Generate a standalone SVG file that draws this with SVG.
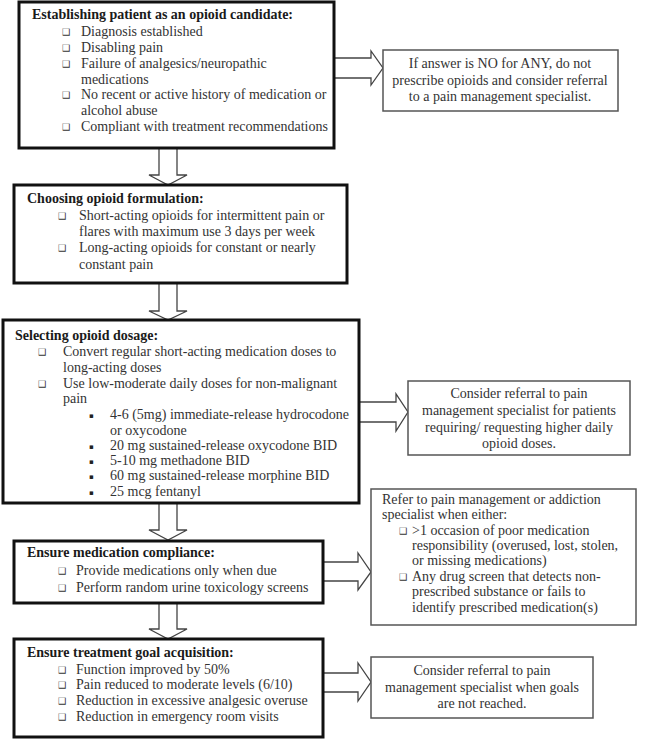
<svg xmlns="http://www.w3.org/2000/svg" width="650" height="739" viewBox="0 0 650 739">
<style>
.main{fill:#fff;stroke:#111;stroke-width:3}
.side{fill:#fff;stroke:#555;stroke-width:1.5}
.arr{fill:#fff;stroke:#444;stroke-width:1.3;stroke-linejoin:miter}
text{font-family:"Liberation Serif","Times New Roman",serif;font-size:14px;fill:#333}
.t{font-weight:bold;fill:#1a1a1a}
.c{text-anchor:middle}
.b{font-family:"DejaVu Sans",sans-serif;font-size:9px;fill:#333}
.s{font-family:"DejaVu Sans",sans-serif;font-size:7px;fill:#222}
</style>
<rect width="650" height="739" fill="#fff"/>
<g id="connectors">
<path class="arr" d="M334,58 L371,58 L371,51 L383,68 L371,85 L371,78 L334,78"/>
<path class="arr" d="M359,402 L396,402 L396,394 L408,412 L396,431 L396,422 L359,422"/>
<path class="arr" d="M323,562 L358,562 L358,553 L371,572 L358,590 L358,581 L323,581"/>
<path class="arr" d="M323,673 L358,673 L358,663 L371,682 L358,701 L358,692 L323,692"/>
<path class="arr" d="M159,148 L159,175 L149,175 L168,185 L187,175 L177,175 L177,148"/>
<path class="arr" d="M159,283 L159,311 L149,311 L168,320 L187,311 L177,311 L177,283"/>
<path class="arr" d="M159,503 L159,530 L149,530 L168,540 L187,530 L177,530 L177,503"/>
<path class="arr" d="M159,603 L159,629 L149,629 L168,639 L187,629 L177,629 L177,603"/>
</g>
<g id="candidate">
<rect class="main" x="19" y="2" width="315" height="146"/>
<text class="t" x="32" y="19">Establishing patient as an opioid candidate:</text>
<text class="b" x="62" y="35">❑</text><text x="81" y="36">Diagnosis established</text>
<text class="b" x="62" y="51">❑</text><text x="81" y="52">Disabling pain</text>
<text class="b" x="62" y="67">❑</text><text x="81" y="68">Failure of analgesics/neuropathic</text>
<text x="81" y="84">medications</text>
<text class="b" x="62" y="98">❑</text><text x="81" y="99">No recent or active history of medication or</text>
<text x="81" y="115">alcohol abuse</text>
<text class="b" x="62" y="130">❑</text><text x="81" y="131">Compliant with treatment recommendations</text>
</g>
<g id="no-referral">
<rect class="side" x="383" y="50" width="235" height="61"/>
<text class="c" x="500" y="68">If answer is NO for ANY, do not</text>
<text class="c" x="500" y="85">prescribe opioids and consider referral</text>
<text class="c" x="500" y="101">to a pain management specialist.</text>
</g>
<g id="formulation">
<rect class="main" x="14" y="185" width="333" height="98"/>
<text class="t" x="27" y="203">Choosing opioid formulation:</text>
<text class="b" x="58" y="219">❑</text><text x="79" y="220">Short-acting opioids for intermittent pain or</text>
<text x="79" y="236">flares with maximum use 3 days per week</text>
<text class="b" x="58" y="251">❑</text><text x="79" y="252">Long-acting opioids for constant or nearly</text>
<text x="79" y="269">constant pain</text>
</g>
<g id="dosage">
<rect class="main" x="3" y="320" width="356" height="183"/>
<text class="t" x="15" y="340">Selecting opioid dosage:</text>
<text class="b" x="38" y="355">❑</text><text x="63" y="356">Convert regular short-acting medication doses to</text>
<text x="63" y="372">long-acting doses</text>
<text class="b" x="38" y="387">❑</text><text x="63" y="388">Use low-moderate daily doses for non-malignant</text>
<text x="63" y="403">pain</text>
<text class="s" x="89" y="418">▪</text><text x="110" y="419">4-6 (5mg) immediate-release hydrocodone</text>
<text x="110" y="435">or oxycodone</text>
<text class="s" x="89" y="449">▪</text><text x="110" y="450">20 mg sustained-release oxycodone BID</text>
<text class="s" x="89" y="464">▪</text><text x="110" y="465">5-10 mg methadone BID</text>
<text class="s" x="89" y="479">▪</text><text x="110" y="480">60 mg sustained-release morphine BID</text>
<text class="s" x="89" y="495">▪</text><text x="110" y="496">25 mcg fentanyl</text>
</g>
<g id="higher-dose-referral">
<rect class="side" x="408" y="381" width="222" height="74"/>
<text class="c" x="519" y="398">Consider referral to pain</text>
<text class="c" x="519" y="415">management specialist for patients</text>
<text class="c" x="519" y="432">requiring/ requesting higher daily</text>
<text class="c" x="519" y="448">opioid doses.</text>
</g>
<g id="compliance">
<rect class="main" x="14" y="541" width="309" height="62"/>
<text class="t" x="27" y="557">Ensure medication compliance:</text>
<text class="b" x="58" y="574">❑</text><text x="76" y="575">Provide medications only when due</text>
<text class="b" x="58" y="591">❑</text><text x="76" y="592">Perform random urine toxicology screens</text>
</g>
<g id="addiction-referral">
<rect class="side" x="371" y="489" width="265" height="136"/>
<text x="382" y="504">Refer to pain management or addiction</text>
<text x="382" y="519">specialist when either:</text>
<text class="b" x="399" y="534">❑</text><text x="412" y="535">&gt;1 occasion of poor medication</text>
<text x="412" y="550">responsibility (overused, lost, stolen,</text>
<text x="412" y="565">or missing medications)</text>
<text class="b" x="399" y="580">❑</text><text x="412" y="581">Any drug screen that detects non-</text>
<text x="412" y="596">prescribed substance or fails to</text>
<text x="412" y="612">identify prescribed medication(s)</text>
</g>
<g id="goals">
<rect class="main" x="14" y="639" width="309" height="98"/>
<text class="t" x="27" y="657">Ensure treatment goal acquisition:</text>
<text class="b" x="58" y="673">❑</text><text x="76" y="674">Function improved by 50%</text>
<text class="b" x="58" y="688">❑</text><text x="76" y="689">Pain reduced to moderate levels (6/10)</text>
<text class="b" x="58" y="704">❑</text><text x="76" y="705">Reduction in excessive analgesic overuse</text>
<text class="b" x="58" y="720">❑</text><text x="76" y="721">Reduction in emergency room visits</text>
</g>
<g id="goals-referral">
<rect class="side" x="371" y="657" width="222" height="61"/>
<text class="c" x="482" y="675">Consider referral to pain</text>
<text class="c" x="482" y="692">management specialist when goals</text>
<text class="c" x="482" y="708">are not reached.</text>
</g>
</svg>
